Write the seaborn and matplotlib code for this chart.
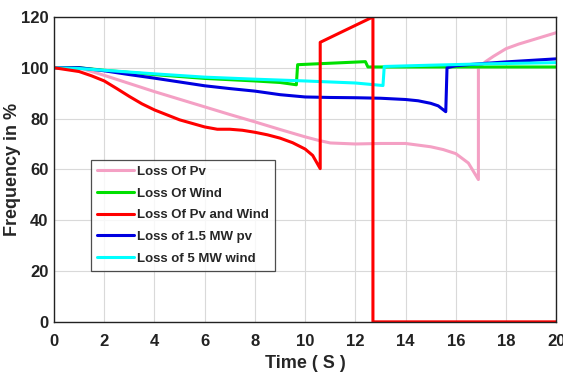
import matplotlib
matplotlib.use("Agg")
import matplotlib.pyplot as plt
import seaborn as sns
import pandas as pd

# ---- data ----
pv_t = [0, 1, 2, 3, 4, 5, 6, 7, 8, 9, 10, 10.5, 11, 12, 13, 14, 15, 15.5, 16, 16.5, 16.9, 16.9, 17.2, 17.5, 18, 18.5, 19, 20]
pv_f = [100, 100, 97, 93.8, 90.6, 87.6, 84.6, 81.6, 78.7, 75.7, 72.8, 71.5, 70.4, 70, 70.2, 70.2, 68.9, 67.8, 66.2, 62.5, 56, 100, 102.5, 104.5, 107.5, 109.3, 110.8, 113.8]

wind_t = [0, 1, 2, 4, 6, 8, 9, 9.65, 9.7, 12.4, 12.5, 20]
wind_f = [100, 100, 99, 97.3, 95.8, 94.8, 94.2, 93.3, 101.2, 102.4, 100.3, 100.3]

pvw_t = [0, 1, 1.5, 2, 2.5, 3, 3.5, 4, 5, 6, 6.5, 7, 7.5, 8, 8.5, 9, 9.5, 10, 10.3, 10.6, 10.6, 11.5, 12.7, 12.7, 20]
pvw_f = [100, 98.5, 96.8, 94.8, 91.8, 88.7, 85.8, 83.4, 79.5, 76.7, 75.8, 75.8, 75.4, 74.6, 73.6, 72.3, 70.5, 68, 65.5, 60.3, 110, 114.3, 120, 0, 0]

pv15_t = [0, 1, 2, 3, 4, 5, 6, 7, 8, 9, 10, 11, 12, 13, 14, 14.5, 15, 15.3, 15.6, 15.65, 16, 17, 18, 19, 20]
pv15_f = [100, 100, 98.8, 97.3, 95.9, 94.4, 92.9, 91.8, 90.8, 89.4, 88.5, 88.3, 88.2, 88.0, 87.5, 87.0, 86.0, 85.0, 82.7, 100, 100.8, 101.6, 102.3, 102.9, 103.5]

w5_t = [0, 1, 2, 4, 6, 8, 10, 12, 13.1, 13.15, 15, 17, 20]
w5_f = [100, 99.7, 99, 97.6, 96.3, 95.5, 94.8, 94, 93, 100.5, 101, 101.5, 102]

labels = ["Loss Of Pv", "Loss Of Wind", "Loss Of Pv and Wind", "Loss of 1.5 MW pv", "Loss of 5 MW wind"]
colors = ["#F4A0C4", "#00E000", "#FF0000", "#0000E0", "#00FFFF"]
series_t = [pv_t, wind_t, pvw_t, pv15_t, w5_t]
series_f = [pv_f, wind_f, pvw_f, pv15_f, w5_f]

x_ticks = list(range(0, 21, 2))
y_ticks = list(range(0, 121, 20))

sns.set_style("whitegrid")
plt.rcParams["font.family"] = ["Liberation Sans", "DejaVu Sans"]

fig = plt.figure(figsize=(5.63, 3.76), dpi=100)
ax = fig.add_axes([0.096, 0.144, 0.892, 0.811])

draw_order = [0, 1, 3, 4, 2]
handles = {}
for i in draw_order:
    df = pd.DataFrame({"t": series_t[i], "f": series_f[i]})
    sns.lineplot(data=df, x="t", y="f", ax=ax, sort=False, estimator=None,
                 color=colors[i], linewidth=2.2, label=labels[i])
    handles[i] = ax.get_lines()[-1]

ax.set_xlim(0, 20)
ax.set_ylim(0, 120)
ax.set_xticks(x_ticks)
ax.set_yticks(y_ticks)
ax.grid(True, color="#D9D9D9", linewidth=0.8)
for s in ax.spines.values():
    s.set_color("#222222")
    s.set_linewidth(1.0)
ax.tick_params(axis="both", labelsize=12, direction="in", length=3, colors="#222222")
ax.tick_params(axis="x", pad=9)
ax.tick_params(axis="y", pad=4)
for lab in ax.get_xticklabels() + ax.get_yticklabels():
    lab.set_fontweight("bold")

ax.set_xlabel("Time ( S )", fontsize=13, fontweight="bold", labelpad=4)
ax.set_ylabel("Frequency in %", fontsize=13, fontweight="bold")
ax.yaxis.set_label_coords(-0.066, 0.5)

leg = ax.legend([handles[i] for i in range(5)], labels, loc="upper left",
                bbox_to_anchor=(0.074, 0.532), borderaxespad=0, fontsize=9.5,
                frameon=True, fancybox=False, edgecolor="#222222", handlelength=2.8,
                borderpad=0.45, labelspacing=0.72, handletextpad=0.25)
leg.get_frame().set_linewidth(0.9)
for t in leg.get_texts():
    t.set_fontweight("bold")

fig.savefig("out.png", dpi=100, facecolor="white")
